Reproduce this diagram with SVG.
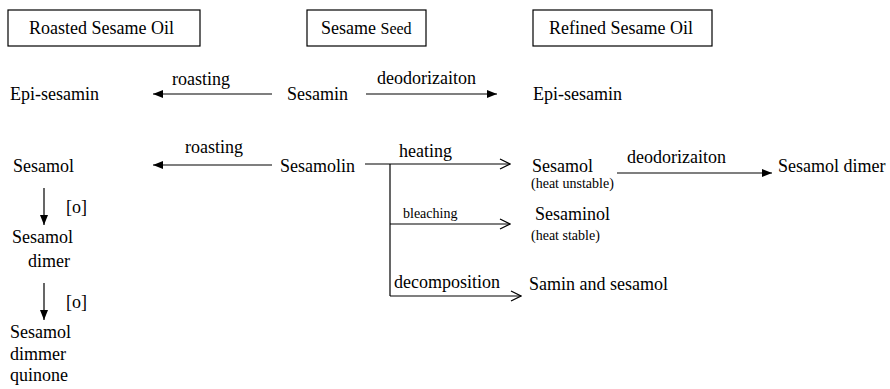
<svg xmlns="http://www.w3.org/2000/svg" width="890" height="389" viewBox="0 0 890 389" font-family="'Liberation Serif', 'Times New Roman', Times, serif">
<style>
text{fill:#000;font-size:18px}
.s{font-size:14px}
.box{fill:#fff;stroke:#000;stroke-width:1.2}
.ln{fill:none;stroke:#000;stroke-width:1.2}
</style>
<defs>
<marker id="fa" viewBox="0 0 10 8" refX="10" refY="4" markerWidth="10" markerHeight="8" markerUnits="userSpaceOnUse" orient="auto"><path d="M0,0 L10,4 L0,8 Z" fill="#000"/></marker>
<marker id="ch" viewBox="0 0 12 12" refX="11" refY="6" markerWidth="12" markerHeight="12" markerUnits="userSpaceOnUse" orient="auto"><path d="M1,1 L11,6 L1,11" fill="none" stroke="#000" stroke-width="1.3"/></marker>
</defs>
<rect width="890" height="389" fill="#fff"/>
<g font-family="'Liberation Serif', 'Times New Roman', Times, serif">
<g id="roasted-oil"><rect class="box" x="8" y="10" width="192" height="36"/><text x="29" y="34">Roasted Sesame Oil</text></g>
<g id="sesame-seed"><rect class="box" x="307" y="10" width="119" height="36"/><text x="321" y="34">Sesame <tspan font-size="16">Seed</tspan></text></g>
<g id="refined-oil"><rect class="box" x="533" y="10" width="179" height="36"/><text x="549" y="34">Refined Sesame Oil</text></g>
<g id="epi-sesamin-l"><text x="10" y="100">Epi-sesamin</text></g>
<g id="sesamin"><text x="287" y="100">Sesamin</text></g>
<g id="epi-sesamin-r"><text x="533" y="100">Epi-sesamin</text></g>
<g id="sesamol-l"><text x="13" y="172">Sesamol</text></g>
<g id="sesamolin"><text x="280" y="172">Sesamolin</text></g>
<g id="sesamol-r"><text x="532" y="172">Sesamol</text><text class="s" x="531" y="188">(heat unstable)</text></g>
<g id="sesamol-dimer-r"><text x="778" y="172">Sesamol dimer</text></g>
<g id="sesaminol"><text x="535" y="220">Sesaminol</text><text class="s" x="531" y="240">(heat stable)</text></g>
<g id="samin"><text x="529" y="290">Samin and sesamol</text></g>
<g id="sesamol-dimer-l"><text x="12" y="243">Sesamol</text><text x="28" y="267">dimer</text></g>
<g id="quinone"><text x="10" y="338">Sesamol</text><text x="10" y="360">dimmer</text><text x="10" y="381">quinone</text></g>
<g id="connectors">
<line class="ln" x1="272" y1="94" x2="153" y2="94" marker-end="url(#fa)"/>
<text x="172" y="85">roasting</text>
<line class="ln" x1="366" y1="94" x2="497" y2="94" marker-end="url(#fa)"/>
<text x="377" y="84">deodorizaiton</text>
<line class="ln" x1="272" y1="165" x2="153" y2="165" marker-end="url(#fa)"/>
<text x="185" y="153">roasting</text>
<line class="ln" x1="365" y1="164" x2="510" y2="164" marker-end="url(#ch)"/>
<text x="399" y="157">heating</text>
<line class="ln" x1="390" y1="164" x2="390" y2="296"/>
<line class="ln" x1="390" y1="224" x2="510" y2="224" marker-end="url(#ch)"/>
<text class="s" x="403" y="218">bleaching</text>
<line class="ln" x1="390" y1="296" x2="521" y2="296" marker-end="url(#ch)"/>
<text x="394" y="288">decomposition</text>
<line class="ln" x1="617" y1="173" x2="772" y2="173" marker-end="url(#fa)"/>
<text x="627" y="163">deodorizaiton</text>
<line class="ln" x1="44" y1="188" x2="44" y2="225" marker-end="url(#fa)"/>
<text x="66" y="213">[o]</text>
<line class="ln" x1="44" y1="283" x2="44" y2="320" marker-end="url(#fa)"/>
<text x="66" y="308">[o]</text>
</g>
</g>
</svg>
